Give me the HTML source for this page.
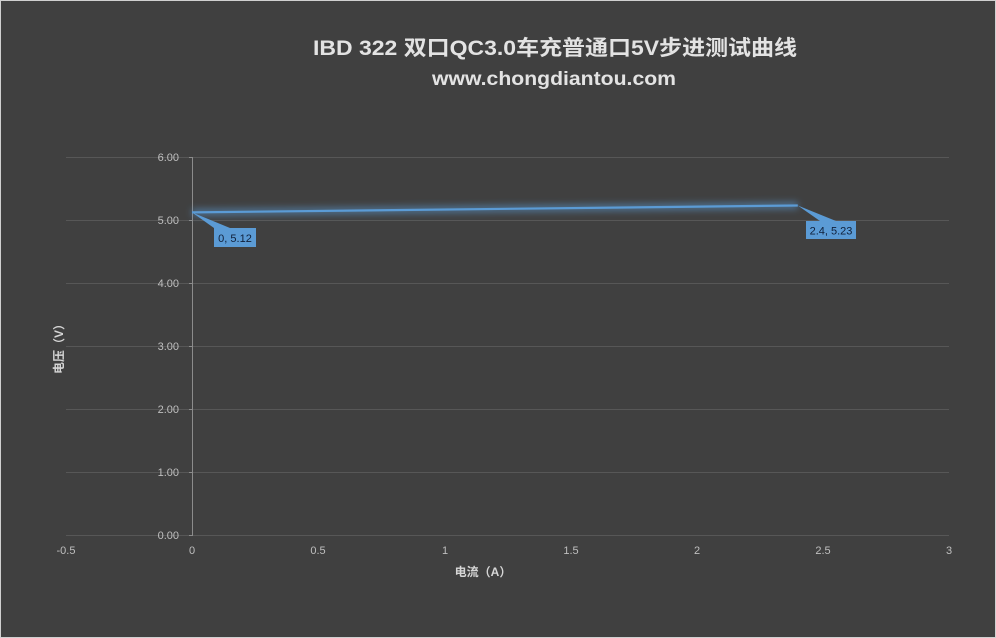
<!DOCTYPE html>
<html><head><meta charset="utf-8"><style>
html,body{margin:0;padding:0;background:#404040;}
svg{display:block;}
</style></head><body>
<svg width="996" height="638" viewBox="0 0 996 638" xmlns="http://www.w3.org/2000/svg">
<defs>
<filter id="glow" x="-10%" y="-300%" width="120%" height="700%">
<feGaussianBlur stdDeviation="3.5"/>
</filter>
</defs>
<rect x="0" y="0" width="996" height="638" fill="#404040"/>
<rect x="0.5" y="0.5" width="995" height="637" fill="none" stroke="#d0d0d0" stroke-width="1"/>
<g font-family="Liberation Sans, Noto Sans CJK SC, sans-serif" fill="#e3e3e3" font-weight="bold" text-anchor="middle">
<text x="555" y="55" font-size="21" textLength="484" lengthAdjust="spacingAndGlyphs">IBD 322 双口QC3.0车充普通口5V步进测试曲线</text>
<text x="554" y="85" font-size="19" textLength="244" lengthAdjust="spacingAndGlyphs">www.chongdiantou.com</text>
</g>
<g stroke="#575757" stroke-width="1">
<line x1="66" y1="157.5" x2="949" y2="157.5"/>
<line x1="66" y1="220.5" x2="949" y2="220.5"/>
<line x1="66" y1="283.5" x2="949" y2="283.5"/>
<line x1="66" y1="346.5" x2="949" y2="346.5"/>
<line x1="66" y1="409.5" x2="949" y2="409.5"/>
<line x1="66" y1="472.5" x2="949" y2="472.5"/>
<line x1="66" y1="535.5" x2="949" y2="535.5"/>
</g>
<g stroke="#8c8c8c" stroke-width="1">
<line x1="192.5" y1="157" x2="192.5" y2="536"/>
<line x1="189" y1="157.5" x2="192" y2="157.5"/>
<line x1="189" y1="220.5" x2="192" y2="220.5"/>
<line x1="189" y1="283.5" x2="192" y2="283.5"/>
<line x1="189" y1="346.5" x2="192" y2="346.5"/>
<line x1="189" y1="409.5" x2="192" y2="409.5"/>
<line x1="189" y1="472.5" x2="192" y2="472.5"/>
<line x1="189" y1="535.5" x2="192" y2="535.5"/>
</g>
<g font-family="Liberation Sans, sans-serif" font-size="11" fill="#bfbfbf" text-anchor="end">
<text x="179" y="161">6.00</text>
<text x="179" y="224">5.00</text>
<text x="179" y="287">4.00</text>
<text x="179" y="350">3.00</text>
<text x="179" y="413">2.00</text>
<text x="179" y="476">1.00</text>
<text x="179" y="539">0.00</text>
</g>
<g font-family="Liberation Sans, sans-serif" font-size="11" fill="#bfbfbf" text-anchor="middle">
<text x="66" y="554">-0.5</text>
<text x="192" y="554">0</text>
<text x="318" y="554">0.5</text>
<text x="445" y="554">1</text>
<text x="571" y="554">1.5</text>
<text x="697" y="554">2</text>
<text x="823" y="554">2.5</text>
<text x="949" y="554">3</text>
</g>
<g font-family="Liberation Sans, Noto Sans CJK SC, sans-serif" font-size="12" font-weight="bold" fill="#d6d6d6">
<text x="483" y="576" text-anchor="middle">电流（A）</text>
<text transform="translate(63,346) rotate(-90)" text-anchor="middle">电压（V）</text>
</g>
<polyline points="192,212.4 797.8,205.5" fill="none" stroke="#5b9bd5" stroke-width="7" stroke-opacity="0.55" filter="url(#glow)"/>
<polyline points="192,212.4 797.8,205.5" fill="none" stroke="#5b9bd5" stroke-width="2.2"/>
<g fill="#5b9bd5">
<polygon points="192,212.4 214,228 230,228"/>
<rect x="214" y="228" width="42" height="19"/>
<polygon points="797.8,205.5 820,221 836,221"/>
<rect x="806" y="221" width="50" height="18"/>
</g>
<g font-family="Liberation Sans, sans-serif" font-size="11" fill="#10203a" text-anchor="middle">
<text x="235" y="242">0, 5.12</text>
<text x="831" y="234.5">2.4, 5.23</text>
</g>
</svg>
</body></html>
